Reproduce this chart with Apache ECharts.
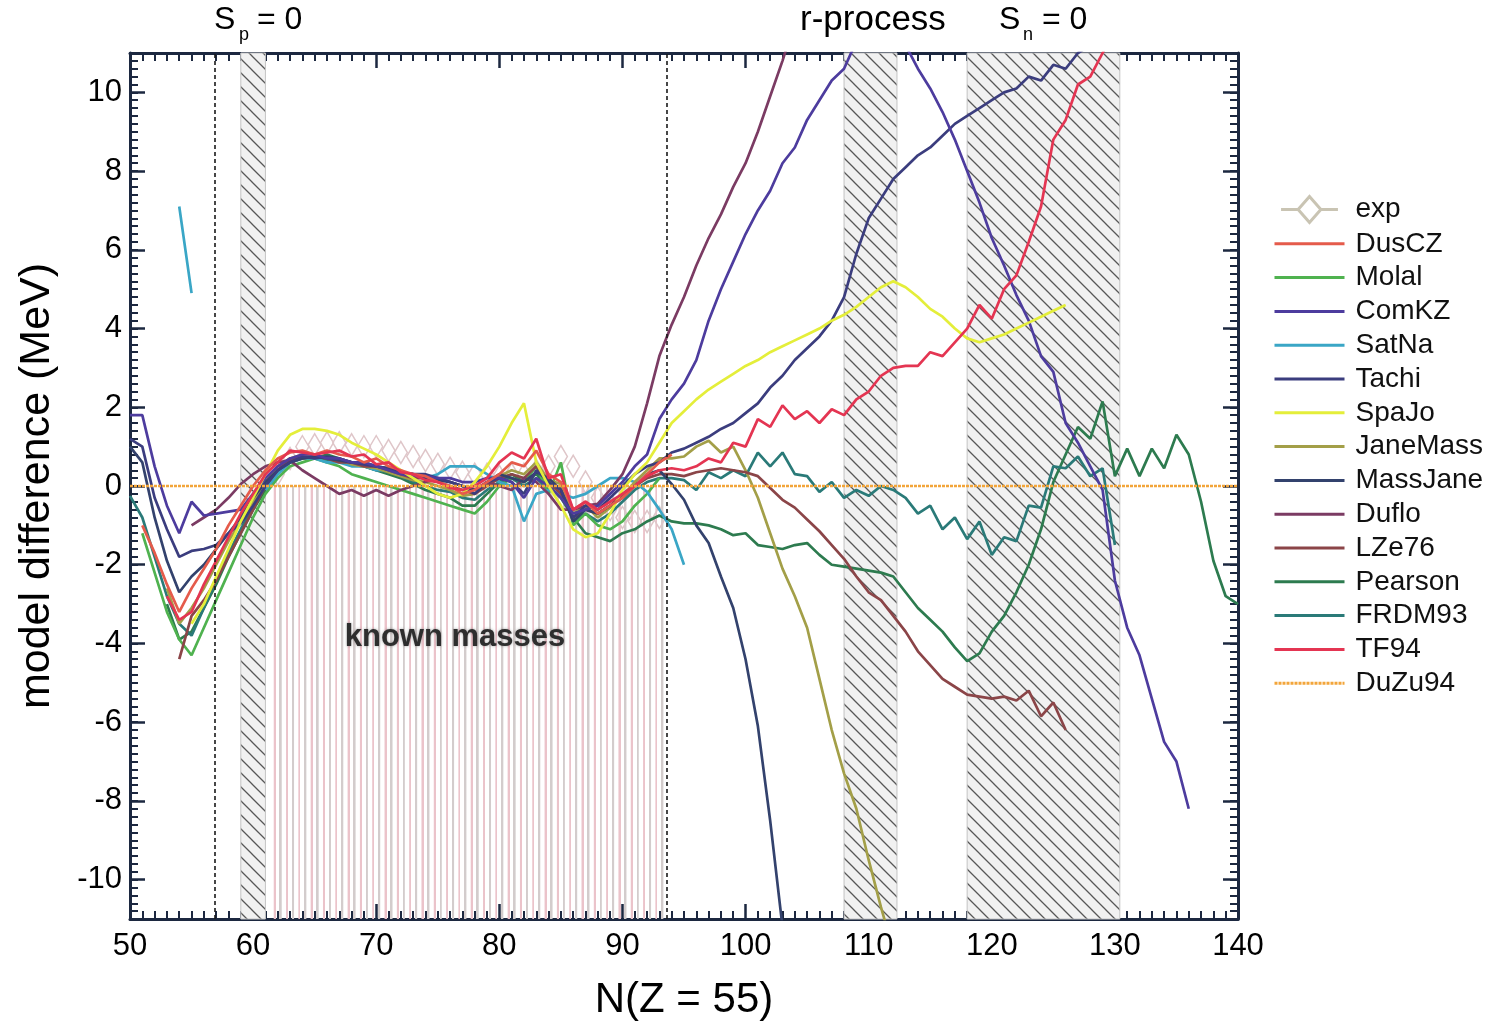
<!DOCTYPE html>
<html><head><meta charset="utf-8">
<script src="https://cdn.jsdelivr.net/npm/echarts@6/dist/echarts.min.js"></script>
<style>html,body{margin:0;padding:0;background:#fff}#c{width:1497px;height:1024px}</style>
</head><body><div id="c"></div>
<script>
// ---- data (N = neutron number, values in MeV) ----
const X_TICKS_MIN = 50, X_TICKS_MAX = 140;
const Y_TICKS = [-10,-8,-6,-4,-2,0,2,4,6,8,10];

const EXP_START = 62;
const EXP = [0.3,0.7,1.0,1.05,1.1,1.1,1.05,1.0,1.0,0.9, 0.85,0.75,0.65,0.55,0.45,0.35,0.3,0.3,0.25,0.3, 0.3,0.4,0.5,0.75,0.5,0.1,-0.3,-0.6,-0.8,-0.9, -0.9,-0.8];

const DUSCZ_START = 51;
const DUSCZ = [-1.0,-1.7,-2.5,-3.2,-2.6,-2.1,-1.6,-1.0,-0.5,0.0, 0.4,0.7,0.85,0.9,0.8,0.9,0.8,0.75,0.6,0.7, 0.5,0.4,0.3,0.25,0.1,0.0,-0.2,-0.1,0.1,0.3, 0.6,0.5,0.9,0.3,0.1,-0.6,-0.4,-0.7,-0.5,-0.3, 0.0,0.3,0.6,0.8];

const MOLAI_START = 51;
const MOLAI = [-1.2,-2.2,-3.2,-3.9,-4.3,-3.6,-2.9,-2.2,-1.5,-0.8, -0.2,0.2,0.5,0.6,0.7,0.6,0.5,0.3,0.2,0.1, 0.0,-0.1,-0.2,-0.3,-0.4,-0.5,-0.6,-0.7,-0.4,0.0, 0.2,0.1,0.5,-0.2,0.6,-1.0,-0.7,-1.0,-1.1,-0.9, -0.5,-0.2,0.2];

const COMKZ_START = 50;
const COMKZ = [1.8,1.8,0.5,-0.5,-1.2,-0.4,-0.75,-0.7,-0.65,-0.6, -0.2,0.2,0.5,0.7,0.8,0.8,0.7,0.7,0.6,0.6, 0.5,0.4,0.3,0.25,0.25,0.2,0.2,0.1,0.1,0.2, 0.2,0.1,-0.3,0.2,0.0,-0.3,-0.7,-0.6,-0.5,-0.2, 0.1,0.5,0.8,1.7,2.2,2.6,3.2,4.2,5.0,5.7, 6.4,7.0,7.5,8.2,8.6,9.3,9.8,10.3,10.6,11.3, 11.6,11.8,11.6,11.2,10.6,10.1,9.5,8.8,8.0,7.2, 6.3,5.6,4.85,4.2,3.3,2.9,1.6,1.1,0.5,-0.1, -2.4,-3.6,-4.3,-5.4,-6.5,-7.0,-8.2];

const SATNA_START = 54;
const SATNA = [7.1,4.9,null,null,null,null,null, -0.1,0.3,0.6,0.7,0.7,0.6,0.6,0.5,0.5,0.4, 0.4,0.3,0.3,0.2,0.3,0.5,0.5,0.5,0.3,0.1, 0.0,-0.9,-0.2,-0.1,-0.2,-0.3,-0.2,0.0,0.2,0.2, 0.1,-0.15,-0.6,-1.1,-2.0];

const TACHI_START = 50;
const TACHI = [1.2,1.0,-0.3,-1.1,-1.8,-1.65,-1.6,-1.5,-1.2,-0.95, -0.5,0.0,0.4,0.6,0.75,0.7,0.75,0.7,0.6,0.55, 0.5,0.45,0.35,0.3,0.3,0.2,0.1,0.0,-0.2,0.1, 0.2,0.1,-0.2,0.4,0.1,-0.1,-0.8,-0.5,-0.6,-0.3, 0.0,0.3,0.5,0.6,0.85,0.95,1.1,1.25,1.45,1.6, 1.85,2.1,2.5,2.8,3.2,3.5,3.8,4.2,4.8,5.9, 6.8,7.3,7.8,8.1,8.4,8.6,8.9,9.2,9.4,9.6, 9.8,10.0,10.1,10.4,10.3,10.7,10.6,11.0,11.2];

const SPAJO_START = 55;
const SPAJO = [-3.5,-3.0,-2.3,-1.6,-0.9,-0.3,0.3,0.9,1.3,1.45, 1.45,1.4,1.3,1.1,0.95,0.8,0.6,0.4,0.2,0.0, -0.2,-0.3,-0.2,0.1,0.5,1.0,1.6,2.1,0.6,0.0, -0.5,-1.1,-1.3,-1.2,-0.7,-0.1,0.3,0.6,1.1,1.6, 1.9,2.2,2.45,2.65,2.85,3.05,3.2,3.4,3.55,3.7, 3.85,4.0,4.2,4.35,4.55,4.8,5.05,5.2,5.05,4.8, 4.5,4.3,4.0,3.75,3.65,3.75,3.85,4.0,4.15,4.3, 4.45,4.6];

const JANEMASS_START = 53;
const JANEMASS = [-2.6,-3.5,-3.1,-2.6,-2.0,-1.4,-0.9,-0.4,0.1,0.5, 0.7,0.8,0.75,0.7,0.7,0.55,0.5,0.45,0.35,0.25, 0.15,0.1,0.0,-0.1,-0.25,-0.2,0.05,0.25,0.4,0.3, 0.6,0.15,0.05,-0.7,-0.5,-0.8,-0.55,-0.25,0.1,0.4, 0.7,0.7,0.75,1.0,1.15,0.85,1.0,0.4,-0.3,-1.2, -2.1,-2.8,-3.6,-4.9,-6.2,-7.3,-8.2,-9.5,-10.7,-11.8];

const MASSJANE_START = 50;
const MASSJANE = [1.0,0.6,-0.8,-1.9,-2.7,-2.3,-2.0,-1.6,-1.2,-0.8, -0.3,0.1,0.4,0.6,0.7,0.75,0.7,0.65,0.6,0.6, 0.5,0.45,0.35,0.3,0.2,0.15,0.1,0.0,-0.1,0.1, 0.3,0.2,0.1,0.35,0.2,-0.1,-0.9,-0.6,-0.7,-0.5, -0.3,0.0,0.3,0.4,0.05,-0.35,-1.0,-1.45,-2.3,-3.1, -4.4,-6.1,-8.5,-11.2];

const DUFLO_START = 55;
const DUFLO = [-1.0,-0.8,-0.6,-0.3,0.05,0.3,0.5,0.6,0.65,0.4, 0.2,0.0,-0.2,-0.1,-0.25,-0.1,-0.25,-0.1,0.0,0.1, 0.2,0.1,0.0,-0.1,0.1,0.0,-0.1,0.2,0.1,-0.2, -0.6,-0.6,-0.5,-0.45,-0.1,0.3,1.0,2.1,3.3,4.1, 4.8,5.6,6.3,6.9,7.6,8.2,9.0,9.9,10.8,11.8];

const LZE76_START = 54;
const LZE76 = [-4.4,-3.3,-2.9,-2.4,-1.8,-1.2,-0.6,0.0,0.4,0.7, 0.7,0.75,0.7,0.6,0.6,0.5,0.5,0.4,0.3,0.2, 0.2,0.1,0.0,-0.1,-0.2,0.0,0.2,0.3,0.2,0.5, 0.1,-0.2,-0.8,-0.6,-0.7,-0.5,-0.2,0.0,0.2,0.3, 0.3,0.25,0.35,0.4,0.45,0.4,0.35,0.25,-0.05,-0.35, -0.55,-0.85,-1.15,-1.5,-1.85,-2.3,-2.7,-2.9,-3.3,-3.7, -4.2,-4.55,-4.9,-5.1,-5.3,-5.35,-5.4,-5.35,-5.45,-5.2, -5.85,-5.5,-6.2];

const PEARSON_START = 53;
const PEARSON = [-3.0,-3.9,-3.7,-3.1,-2.5,-1.8,-1.2,-0.6,-0.1,0.3, 0.6,0.7,0.7,0.8,0.7,0.6,0.5,0.4,0.3,0.2, 0.05,-0.1,-0.2,-0.3,-0.5,-0.5,-0.2,0.1,0.3,0.1, 0.3,0.0,-0.3,-0.8,-1.2,-1.3,-1.4,-1.2,-1.1,-0.9, -0.75,-0.9,-0.95,-0.95,-1.0,-1.1,-1.25,-1.2,-1.5,-1.55, -1.6,-1.5,-1.45,-1.75,-2.0,-2.05,-2.1,-2.15,-2.2,-2.3, -2.7,-3.1,-3.4,-3.7,-4.1,-4.45,-4.25,-3.7,-3.3,-2.7, -2.0,-1.1,0.1,0.8,1.5,1.2,2.15,0.25,0.95,0.25, 0.95,0.45,1.3,0.8,-0.4,-1.9,-2.8,-3.0];

const FRDM93_START = 50;
const FRDM93 = [-0.25,-0.8,-1.8,-2.8,-3.5,-3.8,-3.1,-2.4,-1.7,-1.1, -0.5,0.0,0.4,0.65,0.75,0.7,0.65,0.7,0.55,0.5, 0.4,0.35,0.25,0.1,0.0,-0.1,-0.15,-0.3,-0.35,-0.1, 0.1,0.2,0.0,0.2,-0.1,0.0,-0.9,-0.7,-0.9,-0.7, -0.4,-0.1,0.1,0.2,0.2,0.15,-0.1,0.35,0.2,0.4, 0.25,0.85,0.5,0.85,0.3,0.25,-0.15,0.1,-0.3,-0.1, -0.25,0.0,-0.1,-0.3,-0.7,-0.5,-1.1,-0.8,-1.35,-0.9, -1.75,-1.3,-1.4,-0.5,-0.55,0.5,0.45,0.75,0.25,0.45, -1.5];

const TF94_START = 53;
const TF94 = [-2.8,-3.4,-3.2,-2.5,-1.9,-1.3,-0.7,-0.2,0.3,0.6, 0.9,0.85,0.8,0.85,0.9,0.75,0.8,0.55,0.6,0.35, 0.3,0.15,0.1,-0.05,-0.1,0.0,0.2,0.6,0.85,0.7, 1.2,0.2,0.3,-0.6,-0.4,-0.6,-0.4,-0.2,0.0,0.25, 0.4,0.45,0.4,0.5,0.7,0.6,1.1,1.0,1.7,1.5, 2.05,1.7,1.9,1.6,1.95,1.8,2.2,2.4,2.8,3.0, 3.05,3.05,3.4,3.3,3.65,4.0,4.6,4.25,5.0,5.35, 6.2,7.1,8.8,9.3,10.2,10.4,11.0,11.6];

const DUZU94_N = [50, 140];
const DUZU94 = [0, 0];

// known-mass nuclei (vertical stripes), hatched bands, dashed limits
const KNOWN_N = [62,63,64,65,66,67,68,69,70,71,72,73,74,75,76,77,78,79,80,81,82,83,84,85,86,87,88,89,90,91,92,93];
const HATCH_BANDS = [[59, 61], [108, 112.3], [118, 130.4]];
const DASHED_N = [56.9, 93.6];
const Y_MIN = -11, Y_MAX = 11;

// ---- chart ----
const FONT = "'Liberation Sans', Arial, sans-serif";
const FRAME = '#1c2840';
function pts(start, vals) { return vals.map((v, i) => [start + i, v]); }

function hatchCanvas() {
  const s = 14, c = document.createElement('canvas');
  c.width = s; c.height = s;
  const g = c.getContext('2d');
  g.fillStyle = '#f1f1f1'; g.fillRect(0, 0, s, s);
  g.strokeStyle = '#575757'; g.lineWidth = 1.3;
  g.beginPath();
  g.moveTo(-2, -2); g.lineTo(s + 2, s + 2);
  g.moveTo(-2, s - 2); g.lineTo(2, s + 2);
  g.moveTo(s - 2, -2); g.lineTo(s + 2, 2);
  g.stroke();
  return c;
}
const hatch = { image: hatchCanvas(), repeat: 'repeat' };

const chart = echarts.init(document.getElementById('c'), null, { renderer: 'canvas' });

function lineSeries(name, data, color, extra) {
  return Object.assign({
    name, type: 'line', data, symbol: 'none', clip: true,
    lineStyle: { color, width: 2.7 }, itemStyle: { color },
    animation: false, connectNulls: false
  }, extra || {});
}

const majorTick = { show: true, inside: true, length: 15, lineStyle: { color: FRAME, width: 2.5 } };
const minorTickLine = { color: FRAME, width: 2 };
const LEGEND_NAMES = ['DusCZ', 'Molal', 'ComKZ', 'SatNa', 'Tachi', 'SpaJo', 'JaneMass', 'MassJane',
  'Duflo', 'LZe76', 'Pearson', 'FRDM93', 'TF94', 'DuZu94'];

const option = {
  backgroundColor: '#ffffff',
  animation: false,
  grid: { left: 130, right: 259, top: 53, bottom: 105, containLabel: false, outerBoundsMode: 'none' },
  xAxis: [
    { type: 'value', min: X_TICKS_MIN, max: X_TICKS_MAX, interval: 10, position: 'bottom',
      axisLine: { show: true, onZero: false, lineStyle: { color: FRAME, width: 3 } },
      axisTick: majorTick,
      minorTick: { show: true, splitNumber: 10, length: 8, lineStyle: minorTickLine },
      axisLabel: { fontSize: 31, color: '#000', margin: 12, fontFamily: FONT },
      splitLine: { show: false },
      name: 'N(Z = 55)', nameLocation: 'middle', nameGap: 60,
      nameTextStyle: { fontSize: 42, color: '#000', fontFamily: FONT } },
    { type: 'value', min: X_TICKS_MIN, max: X_TICKS_MAX, interval: 10, position: 'top',
      axisLine: { show: true, onZero: false, lineStyle: { color: FRAME, width: 3 } },
      axisTick: majorTick,
      minorTick: { show: true, splitNumber: 10, length: 8, lineStyle: minorTickLine },
      axisLabel: { show: false }, splitLine: { show: false } }
  ],
  yAxis: [
    { type: 'value', min: Y_MIN, max: Y_MAX, position: 'left',
      axisLine: { show: true, onZero: false, lineStyle: { color: FRAME, width: 3 } },
      axisTick: Object.assign({ customValues: Y_TICKS }, majorTick),
      axisLabel: { customValues: Y_TICKS, fontSize: 31, color: '#000', margin: 8, fontFamily: FONT },
      splitLine: { show: false },
      name: 'model difference (MeV)', nameLocation: 'middle', nameGap: 71, nameRotate: 90,
      nameTextStyle: { fontSize: 43, color: '#000', fontFamily: FONT } },
    { type: 'value', min: Y_MIN, max: Y_MAX, interval: 1, position: 'left',
      axisLine: { show: false }, axisLabel: { show: false }, splitLine: { show: false },
      axisTick: { show: true, inside: true, length: 8, lineStyle: minorTickLine },
      minorTick: { show: true, splitNumber: 5, length: 8, lineStyle: minorTickLine } },
    { type: 'value', min: Y_MIN, max: Y_MAX, position: 'right',
      axisLine: { show: true, onZero: false, lineStyle: { color: FRAME, width: 3 } },
      axisTick: Object.assign({ customValues: Y_TICKS }, majorTick),
      axisLabel: { show: false }, splitLine: { show: false } },
    { type: 'value', min: Y_MIN, max: Y_MAX, interval: 1, position: 'right',
      axisLine: { show: false }, axisLabel: { show: false }, splitLine: { show: false },
      axisTick: { show: true, inside: true, length: 8, lineStyle: minorTickLine },
      minorTick: { show: true, splitNumber: 5, length: 8, lineStyle: minorTickLine } }
  ],
  legend: {
    orient: 'vertical', left: 1268, top: 190,
    itemWidth: 70, itemHeight: 26, itemGap: 5.8,
    selectedMode: false,
    itemStyle: { opacity: 0 },
    lineStyle: { width: 3 },
    textStyle: { fontSize: 28, color: '#111', fontFamily: FONT, padding: [0, 0, 0, 6] },
    data: [
      { name: 'exp', icon: 'path://M0,13L21,13M21,13L35,-3L49,13L35,29ZM49,13L70,13',
        itemStyle: { color: 'rgba(0,0,0,0)', borderColor: '#c9c4b3', borderWidth: 3, opacity: 1 } }
    ].concat(LEGEND_NAMES)
  },
  graphic: [
    { type: 'text', x: 214, y: 20, style: { text: 'S', font: '32px ' + FONT, fill: '#000', textVerticalAlign: 'middle' } },
    { type: 'text', x: 239, y: 35, style: { text: 'p', font: '18px ' + FONT, fill: '#000', textVerticalAlign: 'middle' } },
    { type: 'text', x: 257, y: 20, style: { text: '= 0', font: '32px ' + FONT, fill: '#000', textVerticalAlign: 'middle' } },
    { type: 'text', x: 800, y: 20, style: { text: 'r-process', font: '35px ' + FONT, fill: '#000', textVerticalAlign: 'middle' } },
    { type: 'text', x: 999, y: 20, style: { text: 'S', font: '32px ' + FONT, fill: '#000', textVerticalAlign: 'middle' } },
    { type: 'text', x: 1023, y: 35, style: { text: 'n', font: '18px ' + FONT, fill: '#000', textVerticalAlign: 'middle' } },
    { type: 'text', x: 1042, y: 20, style: { text: '= 0', font: '32px ' + FONT, fill: '#000', textVerticalAlign: 'middle' } }
  ],
  series: [
    { name: 'known', type: 'bar', barWidth: 8, z: 1, silent: true, animation: false,
      data: KNOWN_N.map(n => [n, Y_MIN]),
      itemStyle: { color: new echarts.graphic.LinearGradient(0, 0, 1, 0, [
        { offset: 0, color: '#ebc3ca' }, { offset: 0.26, color: '#ebc3ca' },
        { offset: 0.26, color: 'rgba(255,255,255,0)' }, { offset: 0.72, color: 'rgba(255,255,255,0)' },
        { offset: 0.72, color: '#d3cccc' }, { offset: 1, color: '#d3cccc' }]) },
      markArea: { silent: true,
        itemStyle: { color: hatch, borderColor: '#c4c4c4', borderWidth: 1 },
        data: HATCH_BANDS.map(b => [{ xAxis: b[0] }, { xAxis: b[1] }]) },
      markLine: { silent: true, symbol: ['none', 'none'], label: { show: false },
        lineStyle: { type: [4, 3], color: '#1a1a1a', width: 1.6 },
        data: DASHED_N.map(n => ({ xAxis: n })) },
      markPoint: { silent: true, symbolSize: 0,
        data: [{ coord: [76.4, -3.84], value: 0 }],
        label: { show: true, formatter: 'known masses', position: 'inside', fontSize: 31, fontWeight: 'bold',
          color: '#2e2e2e', fontFamily: FONT, textShadowColor: 'rgba(0,0,0,0.35)', textShadowBlur: 3 } } },
    lineSeries('exp', pts(EXP_START, EXP), '#dcbcc0', {
      symbol: 'diamond', symbolSize: [13, 22], showSymbol: true, z: 2,
      lineStyle: { width: 0, color: '#dcbcc0' },
      itemStyle: { color: 'rgba(0,0,0,0)', borderColor: '#dfc6c9', borderWidth: 1.6 } }),
    lineSeries('Pearson', pts(PEARSON_START, PEARSON), '#2d7b4f'),
    lineSeries('FRDM93', pts(FRDM93_START, FRDM93), '#2a7a78'),
    lineSeries('Molal', pts(MOLAI_START, MOLAI), '#4fb24f'),
    lineSeries('SatNa', pts(SATNA_START, SATNA), '#3aa6c6'),
    lineSeries('JaneMass', pts(JANEMASS_START, JANEMASS), '#a39f48'),
    lineSeries('LZe76', pts(LZE76_START, LZE76), '#8b4548'),
    lineSeries('Duflo', pts(DUFLO_START, DUFLO), '#7b3b63'),
    lineSeries('MassJane', pts(MASSJANE_START, MASSJANE), '#33426d'),
    lineSeries('Tachi', pts(TACHI_START, TACHI), '#3b3d7e'),
    lineSeries('ComKZ', pts(COMKZ_START, COMKZ), '#4d3c9e'),
    lineSeries('SpaJo', pts(SPAJO_START, SPAJO), '#e4ee3a'),
    lineSeries('DusCZ', pts(DUSCZ_START, DUSCZ), '#e55b4b'),
    lineSeries('TF94', pts(TF94_START, TF94), '#e43552'),
    lineSeries('DuZu94', DUZU94_N.map((n, i) => [n, DUZU94[i]]), '#f2a53a', {
      lineStyle: { color: '#f2a53a', width: 2.5, type: [3, 1] }, z: 5 })
  ]
};
chart.setOption(option);
</script></body></html>
